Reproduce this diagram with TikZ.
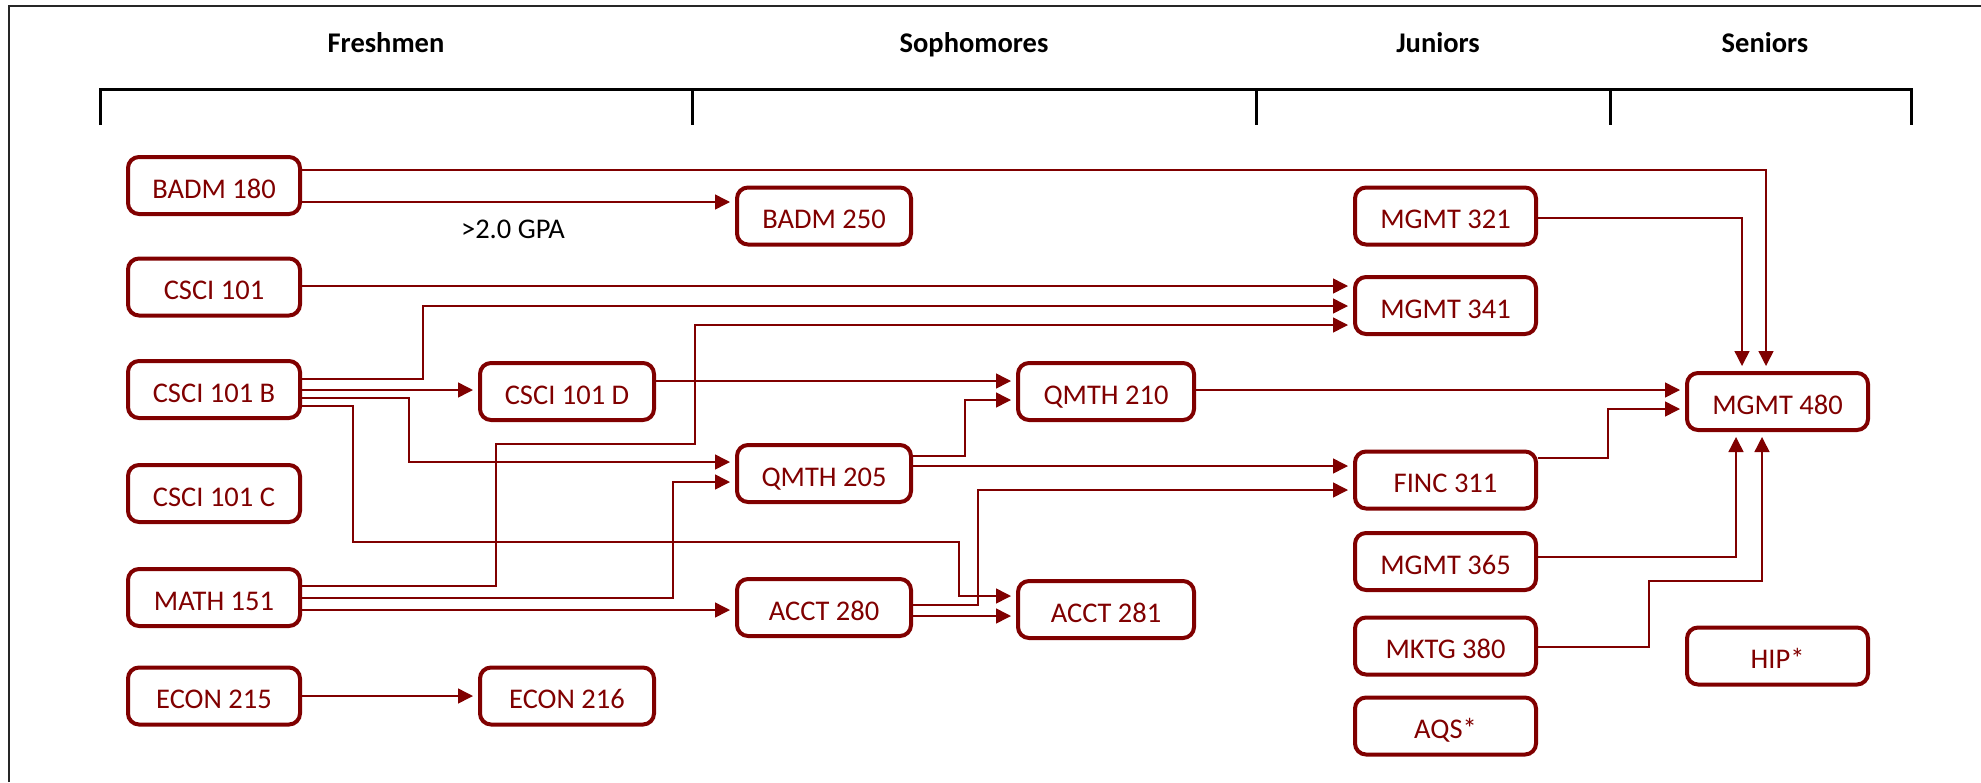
\documentclass[tikz,border=0pt]{standalone}
\usepackage{fontspec}
\setmainfont{Carlito}
\usetikzlibrary{arrows.meta}
\definecolor{crs}{RGB}{128,0,0}
\begin{document}
\begin{tikzpicture}[x=1pt,y=-1pt,
  course/.style={draw=crs, line width=4pt, rounded corners=11pt, text=crs,
    font=\fontsize{28.5}{34}\selectfont, minimum height=57pt, inner sep=0pt,
    text height=25.4pt, text depth=0pt},
  c1/.style={course, minimum width=172pt},
  c2/.style={course, minimum width=174pt},
  c3/.style={course, minimum width=174pt},
  c4/.style={course, minimum width=176pt},
  c5/.style={course, minimum width=181pt},
  c6/.style={course, minimum width=181pt},
  link/.style={draw=crs, line width=1.5pt, -{Triangle[length=15pt,width=15pt]}, shorten >=5pt},
  head/.style={font=\fontsize{28.5}{34}\selectfont\bfseries, anchor=base},
  bracket/.style={draw=black, line width=3pt},
]
\useasboundingbox (0,0) rectangle (1981,782);
\draw[line width=2pt, black!85] (9,782) -- (9,6) -- (1981,6);

% headers
\node[head] (fresh) at (386,52) {Freshmen};
\node[head] (soph) at (974,52) {Sophomores};
\node[head] (jun) at (1438,52) {Juniors};
\node[head] (sen) at (1765,52) {Seniors};

% bracket
\draw[bracket] (100,125) -- (100,89) -- (1911,89) -- (1911,125);
\draw[bracket] (692,89) -- (692,125);
\draw[bracket] (1256,89) -- (1256,125);
\draw[bracket] (1610,89) -- (1610,125);

% column 1
\node[c1] (badm180) at (214,185.5) {BADM 180};
\node[c1] (csci101) at (214,287) {CSCI 101};
\node[c1] (csci101b) at (214,389.5) {CSCI 101 B};
\node[c1] (csci101c) at (214,493.5) {CSCI 101 C};
\node[c1] (math151) at (214,597.5) {MATH 151};
\node[c1] (econ215) at (214,696) {ECON 215};
% column 2
\node[c2] (csci101d) at (567,391.5) {CSCI 101 D};
\node[c2] (econ216) at (567,696) {ECON 216};
% column 3
\node[c3] (badm250) at (824,216) {BADM 250};
\node[c3] (qmth205) at (824,473.5) {QMTH 205};
\node[c3] (acct280) at (824,607.5) {ACCT 280};
% column 4
\node[c4] (qmth210) at (1106,391.5) {QMTH 210};
\node[c4] (acct281) at (1106,609.5) {ACCT 281};
% column 5
\node[c5] (mgmt321) at (1445.5,216) {MGMT 321};
\node[c5] (mgmt341) at (1445.5,305.5) {MGMT 341};
\node[c5] (finc311) at (1445.5,480) {FINC 311};
\node[c5] (mgmt365) at (1445.5,561.5) {MGMT 365};
\node[c5] (mktg380) at (1445.5,646) {MKTG 380};
\node[c5] (aqs) at (1445.5,726) {AQS*};
% column 6
\node[c6] (mgmt480) at (1777.5,401.5) {MGMT 480};
\node[c6] (hip) at (1777.5,656) {HIP*};

% label
\node[font=\fontsize{28.5}{34}\selectfont, anchor=base] (gpa) at (513,238) {>2.0 GPA};

% connectors
\draw[link] (badm180.east |- 0,170) -| (mgmt480.north -| 1766,0);
\draw[link] (badm180.east |- 0,202) -- (badm250.west |- 0,202);
\draw[link] (csci101.east |- 0,286) -- (mgmt341.west |- 0,286);
\draw[link] (csci101b.east |- 0,379) -| (423,306) -- (mgmt341.west |- 0,306);
\draw[link] (csci101b.east |- 0,390) -- (csci101d.west |- 0,390);
\draw[link] (csci101b.east |- 0,398) -| (409,462) -- (qmth205.west |- 0,462);
\draw[link] (csci101b.east |- 0,406) -| (353,542) -| (959,596) -- (acct281.west |- 0,596);
\draw[link] (math151.east |- 0,586) -| (496,444) -| (695,325) -- (mgmt341.west |- 0,325);
\draw[link] (math151.east |- 0,598) -| (673,482) -- (qmth205.west |- 0,482);
\draw[link] (math151.east |- 0,610) -- (acct280.west |- 0,610);
\draw[link] (econ215.east) -- (econ216.west);
\draw[link] (csci101d.east |- 0,381) -- (qmth210.west |- 0,381);
\draw[link] (qmth205.east |- 0,456) -| (965,400) -- (qmth210.west |- 0,400);
\draw[link] (qmth205.east |- 0,466) -- (finc311.west |- 0,466);
\draw[link] (acct280.east |- 0,605) -| (978,490) -- (finc311.west |- 0,490);
\draw[link] (acct280.east |- 0,616) -- (acct281.west |- 0,616);
\draw[link] (qmth210.east |- 0,390) -- (mgmt480.west |- 0,390);
\draw[link] (finc311.east |- 0,458) -| (1608,409) -- (mgmt480.west |- 0,409);
\draw[link] (mgmt321.east |- 0,218) -| (mgmt480.north -| 1742,0);
\draw[link] (mgmt365.east |- 0,557) -| (mgmt480.south -| 1736,0);
\draw[link] (mktg380.east |- 0,647) -| (1649,581) -| (mgmt480.south -| 1762,0);
\end{tikzpicture}
\end{document}
